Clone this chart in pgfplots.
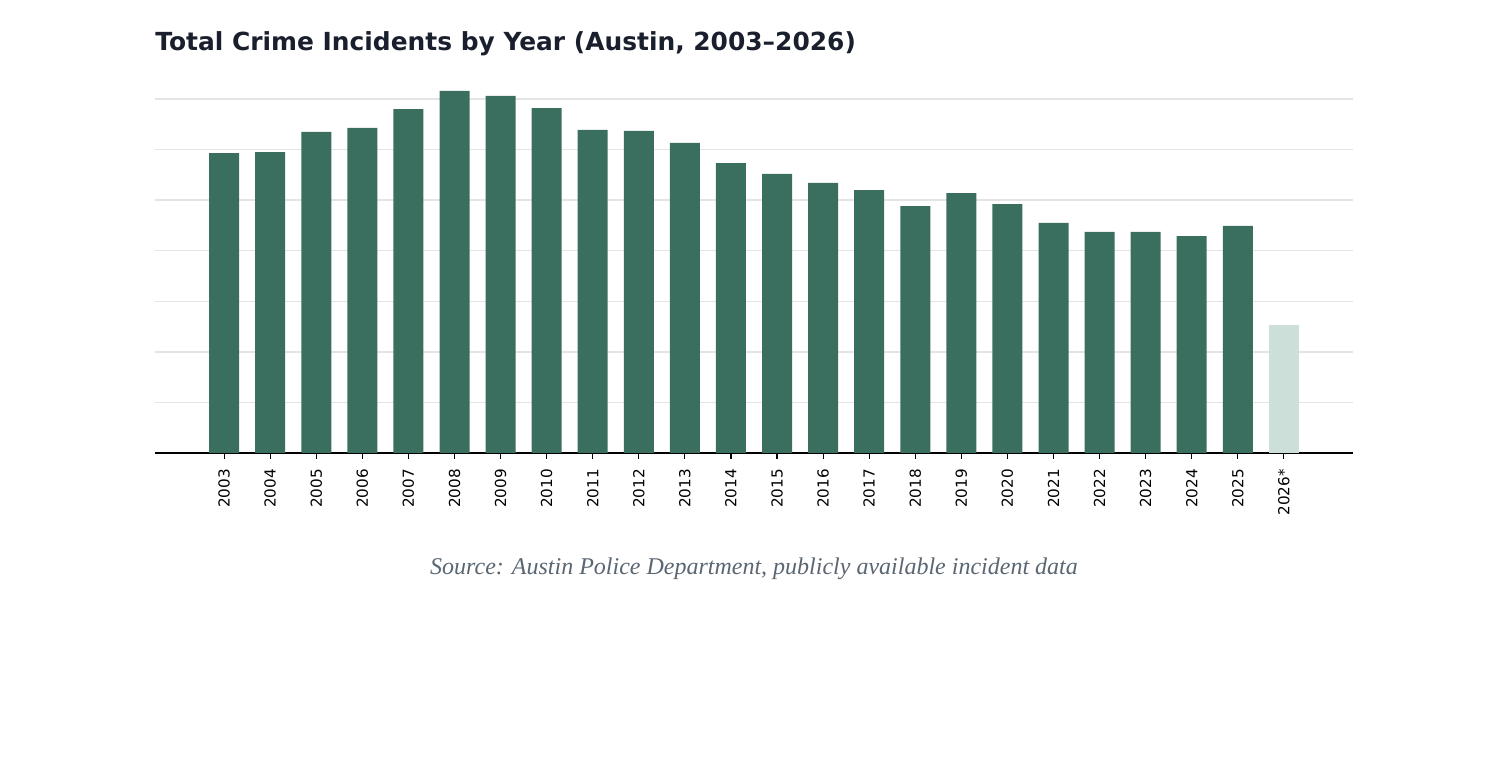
\documentclass[border=0pt]{standalone}
\usepackage{pgfplots}
\pgfplotsset{compat=1.18}
\usepackage{fontspec}
\setmainfont{DejaVu Sans}
\newfontfamily\srcfont{Liberation Serif}
\definecolor{barc}{HTML}{3A6E5F}
\definecolor{barl}{HTML}{CDDFD9}
\definecolor{titlec}{HTML}{1A1F2E}
\definecolor{srcc}{HTML}{5A6672}
\definecolor{gridc}{HTML}{E4E4E4}
\begin{document}
\begin{tikzpicture}
\path[use as bounding box] (0,0) rectangle (748pt,382pt);
\begin{axis}[
  at={(77.5pt,155.5pt)}, anchor=south west,
  scale only axis, width=599pt, height=184.6pt,
  xmin=-1.5, xmax=24.5, ymin=0, ymax=7.3,
  axis x line*=bottom, axis y line*=left,
  x axis line style={black, line width=0.7pt, -},
  y axis line style={draw=none},
  ymajorgrids, ytick={1,2,3,4,5,6,7}, yticklabels={},
  ytick style={draw=none},
  grid style={gridc, line width=0.75pt},
  xtick={0,...,23},
  xticklabels={2003,2004,2005,2006,2007,2008,2009,2010,2011,2012,2013,2014,2015,2016,2017,2018,2019,2020,2021,2022,2023,2024,2025,2026*},
  xticklabel style={rotate=90, anchor=east, font=\fontsize{7.6}{9}\selectfont, black, xshift=-1.5pt},
  xtick style={black, line width=0.6pt},
  major tick length=3pt,
  tick align=outside,
  ybar, bar width=15pt, bar shift=0pt,
  clip=false,
]
\addplot[fill=barc, draw=none] coordinates {
(0,5.93) (1,5.95) (2,6.35) (3,6.43) (4,6.80) (5,7.16) (6,7.06) (7,6.82) (8,6.39) (9,6.37) (10,6.13) (11,5.73) (12,5.52) (13,5.34) (14,5.20) (15,4.88) (16,5.14) (17,4.92) (18,4.55) (19,4.37) (20,4.37) (21,4.29) (22,4.49)};
\addplot[fill=barl, draw=none] coordinates {(23,2.53)};
\end{axis}
\node[anchor=west, inner sep=0pt, text=titlec, font=\bfseries\fontsize{12.45}{15}\selectfont] at (77.5pt,360pt) {Total Crime Incidents by Year (Austin, 2003–2026)};
\node[anchor=center, inner sep=0pt, text=srcc, font=\srcfont\itshape\fontsize{12}{14}\selectfont] at (377pt,97.5pt) {Source: Austin Police Department, publicly available incident data};
\end{tikzpicture}
\end{document}
